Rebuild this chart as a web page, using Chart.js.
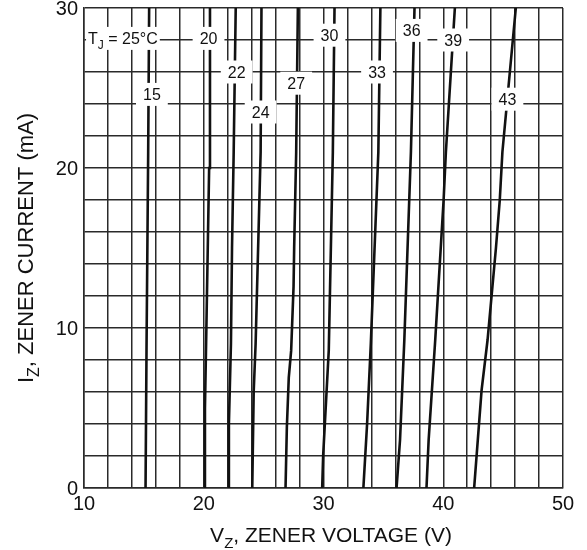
<!DOCTYPE html>
<html>
<head>
<meta charset="utf-8">
<script src="https://cdn.jsdelivr.net/npm/chart.js@4.4.1/dist/chart.umd.min.js"></script>
<style>
  html, body { margin: 0; padding: 0; background: #fff; }
  #wrap { width: 587px; height: 550px; position: relative; }
</style>
</head>
<body>
<div id="wrap"><canvas id="c" width="587" height="550"></canvas></div>
<script>
// ---- Data ----
const seriesNames = ['15', '20', '22', '24', '27', '30', '33', '36', '39', '43'];

// Zener current (mA) / zener voltage (V) points for each curve
const I15 = [0, 8.6, 21, 30];
const V15 = [15.14, 15.22, 15.36, 15.44];

const I20 = [0, 5, 10, 20, 30];
const V20 = [20.03, 20.1, 20.22, 20.45, 20.52];

const I22 = [0, 4, 9, 15, 21, 30];
const V22 = [22.08, 22.1, 22.27, 22.36, 22.5, 22.67];

const I24 = [0, 6, 9, 21, 30];
const V24 = [24.05, 24.17, 24.33, 24.75, 24.82];

const I27 = [0, 3.8, 6.9, 8.6, 12.6, 15, 21, 30];
const V27 = [26.83, 26.94, 27.1, 27.3, 27.5, 27.55, 27.72, 27.86];

const I30 = [0, 2, 8.6, 21, 30];
const V30 = [29.89, 29.97, 30.44, 30.78, 30.92];

const I33 = [0, 4, 9, 21, 30];
const V33 = [33.33, 33.64, 33.95, 34.58, 34.75];

const I36 = [0, 3, 9.25, 21, 30];
const V36 = [36.1, 36.39, 36.75, 37.3, 37.6];

const I39 = [0, 3, 9.25, 18, 21, 30];
const V39 = [38.6, 38.78, 39.33, 40.03, 40.22, 40.97];

const I43 = [0, 6.1, 9.25, 15, 18, 21, 30];
const V43 = [42.58, 43.2, 43.7, 44.4, 44.72, 44.94, 46.06];

const curveCurrents = [I15, I20, I22, I24, I27, I30, I33, I36, I39, I43];
const curveVoltages = [V15, V20, V22, V24, V27, V30, V33, V36, V39, V43];

// Axis tick labels
const xTickLabels = [10, 20, 30, 40, 50];
const yTickLabels = [0, 10, 20, 30];

// Curve label placement (data coordinates, V / mA)
const labelV = [15.67, 20.4, 22.75, 24.75, 27.72, 30.5, 34.47, 37.36, 40.83, 45.36];
const labelI = [24.6, 28.1, 26.0, 23.5, 25.3, 28.3, 26.0, 28.6, 28.0, 24.3];
const tjLabel = { v: 13.25, i: 28.1 };

// ---- Build datasets ----
const datasets = seriesNames.map((name, k) => ({
  label: name,
  data: curveCurrents[k].map((c, j) => ({ x: curveVoltages[k][j], y: c })),
  borderColor: '#111',
  borderWidth: 2.6,
  pointRadius: 0,
  tension: 0,
  fill: false
}));

const FONT = '"Liberation Sans", Arial, Helvetica, sans-serif';

function richWidth(ctx, parts, size) {
  let w = 0;
  for (const p of parts) {
    ctx.font = (p.sub ? Math.round(size * 0.72) : size) + 'px ' + FONT;
    w += ctx.measureText(p.t).width;
  }
  return w;
}
function drawRich(ctx, parts, x, y, size) {
  let cx = x;
  for (const p of parts) {
    const s = p.sub ? Math.round(size * 0.72) : size;
    ctx.font = s + 'px ' + FONT;
    ctx.fillText(p.t, cx, p.sub ? y + size * 0.28 : y);
    cx += ctx.measureText(p.t).width;
  }
}

const overlayPlugin = {
  id: 'overlay',
  afterDatasetsDraw(chart) {
    const ctx = chart.ctx;
    const xs = chart.scales.x, ys = chart.scales.y;
    ctx.save();
    ctx.textBaseline = 'alphabetic';
    ctx.textAlign = 'left';
    const size = 16;
    function boxLabel(parts, v, i, padX) {
      const cx = xs.getPixelForValue(v);
      const cy = ys.getPixelForValue(i);
      const w = richWidth(ctx, parts, size);
      const bw = w + padX * 2, bh = 23;
      ctx.fillStyle = '#fff';
      ctx.fillRect(cx - bw / 2, cy - bh / 2, bw, bh);
      ctx.fillStyle = '#111';
      drawRich(ctx, parts, cx - w / 2, cy + size * 0.36, size);
    }
    seriesNames.forEach((n, k) => boxLabel([{ t: n }], labelV[k], labelI[k], 7));
    boxLabel([{ t: 'T' }, { t: 'J', sub: true }, { t: ' = 25°C' }], tjLabel.v, tjLabel.i, 2);

    // Axis titles with subscripts
    ctx.fillStyle = '#111';
    const xParts = [{ t: 'V' }, { t: 'Z', sub: true }, { t: ', ZENER VOLTAGE (V)' }];
    const xw = richWidth(ctx, xParts, 21);
    drawRich(ctx, xParts, 331 - xw / 2, 542, 21);

    const yParts = [{ t: 'I' }, { t: 'Z', sub: true }, { t: ', ZENER CURRENT (mA)' }];
    const yw = richWidth(ctx, yParts, 22);
    ctx.translate(33, 248);
    ctx.rotate(-Math.PI / 2);
    drawRich(ctx, yParts, -yw / 2, 0, 22);
    ctx.restore();
  }
};

const gridColor = '#2a2a2a';

new Chart(document.getElementById('c'), {
  type: 'line',
  data: { datasets },
  options: {
    responsive: false,
    animation: false,
    events: [],
    layout: { padding: { left: 0, top: 8, right: 24, bottom: 0 } },
    plugins: { legend: { display: false }, tooltip: { enabled: false }, title: { display: false } },
    scales: {
      x: {
        type: 'linear',
        min: 10, max: 50,
        afterFit(s) { s.height = 62; s.paddingLeft = 0; s.paddingRight = 0; },
        afterBuildTicks(s) {
          const t = [];
          for (let v = 10; v <= 50; v += 2) t.push({ value: v });
          s.ticks = t;
        },
        ticks: {
          autoSkip: false,
          maxRotation: 0,
          padding: 4,
          color: '#111',
          font: { family: FONT, size: 20 },
          callback: (v) => xTickLabels.includes(v) ? String(v) : ''
        },
        grid: { color: gridColor, lineWidth: 1.5, drawTicks: false },
        border: { display: true, color: gridColor, width: 1.5 }
      },
      y: {
        type: 'linear',
        min: 0, max: 30,
        afterFit(s) { s.width = 84; s.paddingTop = 0; s.paddingBottom = 0; },
        afterBuildTicks(s) {
          const t = [];
          for (let v = 0; v <= 30; v += 2) t.push({ value: v });
          s.ticks = t;
        },
        ticks: {
          autoSkip: false,
          padding: 6,
          labelOffset: 1,
          color: '#111',
          font: { family: FONT, size: 20 },
          callback: (v) => yTickLabels.includes(v) ? String(v) : ''
        },
        grid: { color: gridColor, lineWidth: 1.5, drawTicks: false },
        border: { display: true, color: gridColor, width: 1.5 }
      }
    }
  },
  plugins: [overlayPlugin]
});
</script>
</body>
</html>
